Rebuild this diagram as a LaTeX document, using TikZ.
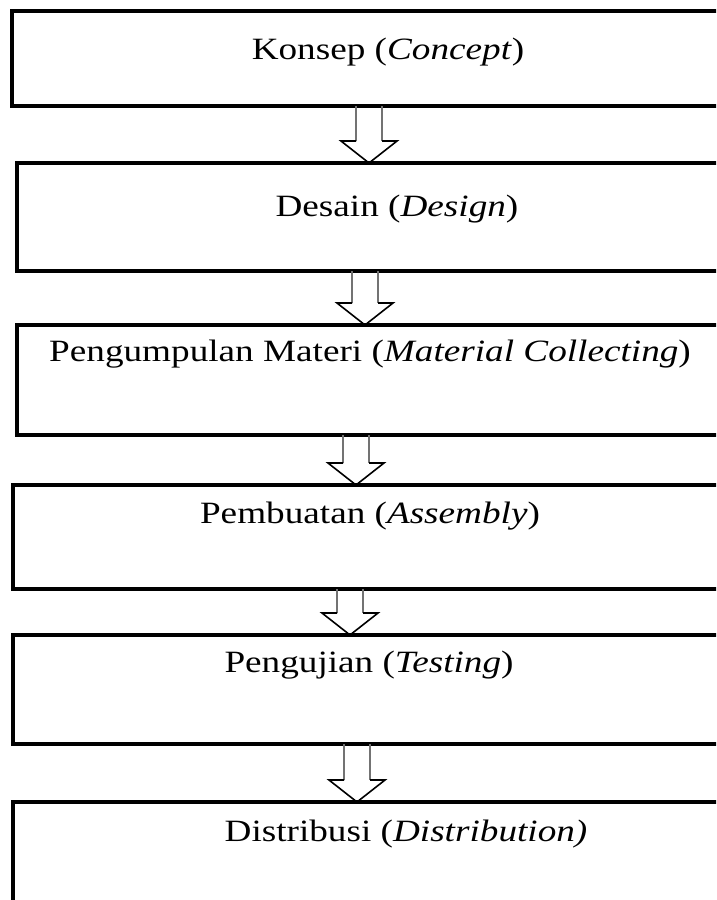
\documentclass[tikz,border=0pt]{standalone}
\usepackage{fontspec}
\setmainfont{Liberation Serif}[FakeStretch=1.2]
\usetikzlibrary{calc}
\begin{document}
\begin{tikzpicture}[x=1pt, y=-1pt,
    box/.style={draw, rectangle, line width=3.5pt, outer sep=0pt, inner sep=0pt,
      anchor=north west, minimum width=760pt},
    steptext/.style={font=\fontsize{31}{37}\selectfont},
    shaft/.style={draw=black!55, line width=2.5pt},
    headline/.style={draw, line width=1.6pt, line join=miter}]
  \clip (0, 0) rectangle (716, 900);
  % boxes
  \node[box, minimum height=95pt] (konsep) at (12, 11) {};
  \node[box, minimum height=108pt] (desain) at (17, 163) {};
  \node[box, minimum height=110pt] (materi) at (17, 325) {};
  \node[box, minimum height=104pt] (buat) at (13, 485) {};
  \node[box, minimum height=109pt] (uji) at (13, 635) {};
  \node[box, minimum height=120pt] (distribusi) at (13, 802) {};
  % texts
  \node[steptext] (tkonsep) at (388, 52) {Konsep (\textit{Concept})};
  \node[steptext] (tdesain) at (397, 209) {Desain (\textit{Design})};
  \node[steptext] (tmateri) at (370, 354) {Pengumpulan Materi (\textit{Material Collecting})};
  \node[steptext] (tbuat) at (370, 516) {Pembuatan (\textit{Assembly})};
  \node[steptext] (tuji) at (369, 665) {Pengujian (\textit{Testing})};
  \node[steptext] (tdistribusi) at (406, 834) {Distribusi (\textit{Distribution)}};
  % hollow arrows
  \coordinate (a1) at ($(konsep.south west)+(357, 0)$);
  \coordinate (p1) at (a1 |- desain.north);
  \draw[shaft] ($(a1)+(-13, 0)$) -- ($(p1)+(-13, -22)$);
  \draw[shaft] ($(a1)+(13, 0)$) -- ($(p1)+(13, -22)$);
  \draw[headline] ($(p1)+(-13, -22)$) -- ($(p1)+(-28, -22)$) -- (p1) -- ($(p1)+(28, -22)$) -- ($(p1)+(13, -22)$);
  \coordinate (a2) at ($(desain.south west)+(348, 0)$);
  \coordinate (p2) at (a2 |- materi.north);
  \draw[shaft] ($(a2)+(-13, 0)$) -- ($(p2)+(-13, -22)$);
  \draw[shaft] ($(a2)+(13, 0)$) -- ($(p2)+(13, -22)$);
  \draw[headline] ($(p2)+(-13, -22)$) -- ($(p2)+(-28, -22)$) -- (p2) -- ($(p2)+(28, -22)$) -- ($(p2)+(13, -22)$);
  \coordinate (a3) at ($(materi.south west)+(339, 0)$);
  \coordinate (p3) at (a3 |- buat.north);
  \draw[shaft] ($(a3)+(-13, 0)$) -- ($(p3)+(-13, -22)$);
  \draw[shaft] ($(a3)+(13, 0)$) -- ($(p3)+(13, -22)$);
  \draw[headline] ($(p3)+(-13, -22)$) -- ($(p3)+(-28, -22)$) -- (p3) -- ($(p3)+(28, -22)$) -- ($(p3)+(13, -22)$);
  \coordinate (a4) at ($(buat.south west)+(337, 0)$);
  \coordinate (p4) at (a4 |- uji.north);
  \draw[shaft] ($(a4)+(-13, 0)$) -- ($(p4)+(-13, -22)$);
  \draw[shaft] ($(a4)+(13, 0)$) -- ($(p4)+(13, -22)$);
  \draw[headline] ($(p4)+(-13, -22)$) -- ($(p4)+(-28, -22)$) -- (p4) -- ($(p4)+(28, -22)$) -- ($(p4)+(13, -22)$);
  \coordinate (a5) at ($(uji.south west)+(344, 0)$);
  \coordinate (p5) at (a5 |- distribusi.north);
  \draw[shaft] ($(a5)+(-13, 0)$) -- ($(p5)+(-13, -22)$);
  \draw[shaft] ($(a5)+(13, 0)$) -- ($(p5)+(13, -22)$);
  \draw[headline] ($(p5)+(-13, -22)$) -- ($(p5)+(-28, -22)$) -- (p5) -- ($(p5)+(28, -22)$) -- ($(p5)+(13, -22)$);
\end{tikzpicture}
\end{document}
